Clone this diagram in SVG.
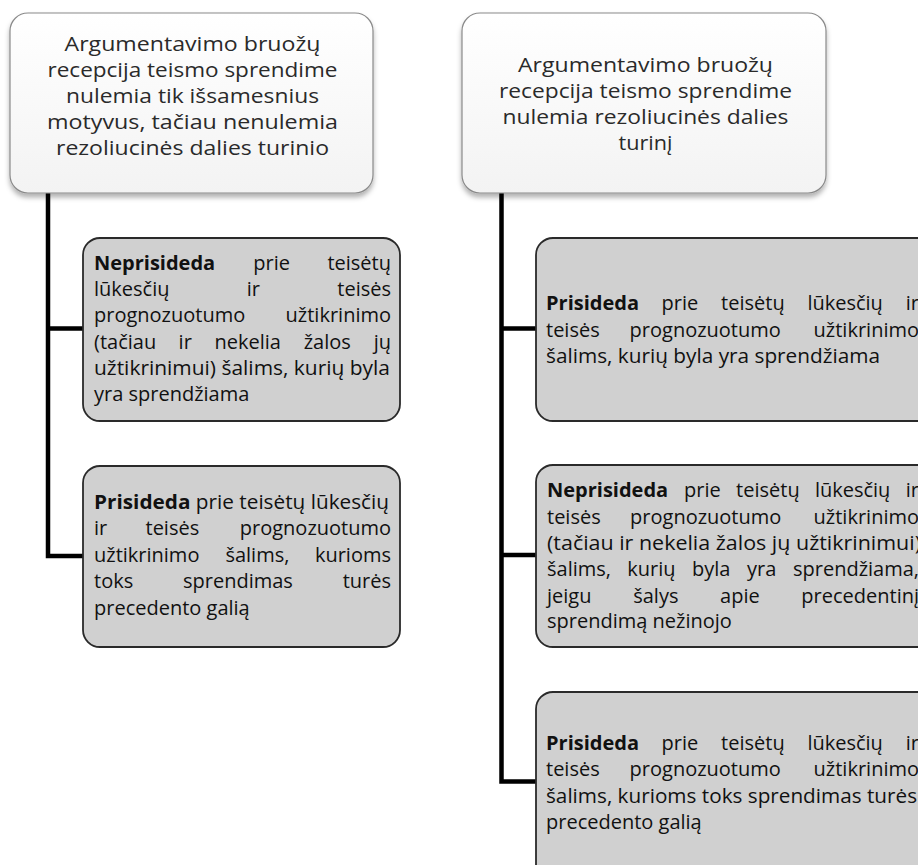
<svg xmlns="http://www.w3.org/2000/svg" width="918" height="865" viewBox="0 0 918 865">
<style>
.top{fill:url(#topfill);stroke:#8a8a8a;stroke-width:1.2;filter:url(#shadow)}
.child{fill:#d0d0d0;stroke:#2a2a2a;stroke-width:1.8}
.tt{font-family:"Open Sans","Noto Sans","Liberation Sans",sans-serif;font-size:20.5px;fill:#2a2a2a;text-anchor:middle;font-variant-ligatures:none}
.ct{font-family:"Open Sans","Noto Sans","Liberation Sans",sans-serif;font-size:20px;fill:#111;font-variant-ligatures:none}
.b{font-weight:bold}
.e{text-anchor:end}
.conn{stroke:#000;stroke-width:4.5;fill:none;stroke-linejoin:miter}
</style>
<defs>
<linearGradient id="topfill" x1="0" y1="0" x2="0" y2="1">
<stop offset="0" stop-color="#ffffff"/>
<stop offset="1" stop-color="#f3f3f3"/>
</linearGradient>
<filter id="shadow" x="-10%" y="-10%" width="120%" height="125%">
<feDropShadow dx="0" dy="4" stdDeviation="2.5" flood-color="#000" flood-opacity="0.3"/>
</filter>
</defs>
<g id="connectors">
<path class="conn" d="M48 193 V556 H83 M48 328.5 H83"/>
<path class="conn" d="M501.5 193 V781.5 H536 M501.5 328.5 H536 M501.5 555 H536"/>
</g>
<g id="top-left">
<rect class="top" x="10" y="13" width="363" height="180" rx="18"/>
<text class="tt" x="192.5" y="51" textLength="256" lengthAdjust="spacingAndGlyphs">Argumentavimo bruožų</text>
<text class="tt" x="192.5" y="77" textLength="290" lengthAdjust="spacingAndGlyphs">recepcija teismo sprendime</text>
<text class="tt" x="192.5" y="103" textLength="253" lengthAdjust="spacingAndGlyphs">nulemia tik išsamesnius</text>
<text class="tt" x="192.5" y="129" textLength="291" lengthAdjust="spacingAndGlyphs">motyvus, tačiau nenulemia</text>
<text class="tt" x="192.5" y="155" textLength="273" lengthAdjust="spacingAndGlyphs">rezoliucinės dalies turinio</text>
</g>
<g id="top-right">
<rect class="top" x="462" y="13" width="364" height="180" rx="18"/>
<text class="tt" x="645.5" y="72" textLength="255" lengthAdjust="spacingAndGlyphs">Argumentavimo bruožų</text>
<text class="tt" x="645.5" y="98" textLength="293" lengthAdjust="spacingAndGlyphs">recepcija teismo sprendime</text>
<text class="tt" x="645.5" y="124" textLength="286" lengthAdjust="spacingAndGlyphs">nulemia rezoliucinės dalies</text>
<text class="tt" x="645.5" y="150" textLength="54" lengthAdjust="spacingAndGlyphs">turinį</text>
</g>
<g id="left-child-1">
<rect class="child" x="83" y="238" width="317" height="183" rx="17"/>
<text class="ct" y="270"><tspan class="b" x="94">Neprisideda</tspan><tspan x="253.3">prie</tspan></text>
<text class="ct e" x="391" y="270">teisėtų</text>
<text class="ct" y="296"><tspan x="94">lūkesčių</tspan><tspan x="246.8">ir</tspan></text>
<text class="ct e" x="391" y="296">teisės</text>
<text class="ct" x="94" y="322">prognozuotumo</text>
<text class="ct e" x="391" y="322">užtikrinimo</text>
<text class="ct" y="349"><tspan x="94">(tačiau</tspan><tspan x="178.6">ir</tspan><tspan x="214.5">nekelia</tspan><tspan x="303.7">žalos</tspan></text>
<text class="ct e" x="391" y="349">jų</text>
<text class="ct" x="94" y="375" textLength="296" lengthAdjust="spacingAndGlyphs">užtikrinimui) šalims, kurių byla</text>
<text class="ct" x="94" y="401">yra sprendžiama</text>
</g>
<g id="left-child-2">
<rect class="child" x="83" y="466" width="317" height="181" rx="17"/>
<text class="ct" x="94" y="509" textLength="295" lengthAdjust="spacingAndGlyphs"><tspan class="b">Prisideda</tspan> prie teisėtų lūkesčių</text>
<text class="ct" y="535"><tspan x="94">ir</tspan><tspan x="145.5">teisės</tspan></text>
<text class="ct e" x="391" y="535">prognozuotumo</text>
<text class="ct" y="562"><tspan x="94">užtikrinimo</tspan><tspan x="225.4">šalims,</tspan></text>
<text class="ct e" x="391" y="562">kurioms</text>
<text class="ct" y="588"><tspan x="94">toks</tspan><tspan x="183">sprendimas</tspan></text>
<text class="ct e" x="391" y="588">turės</text>
<text class="ct" x="94" y="615">precedento galią</text>
</g>
<g id="right-child-1">
<rect class="child" x="536" y="238" width="400" height="183" rx="17"/>
<text class="ct" y="310"><tspan class="b" x="546">Prisideda</tspan><tspan x="661.5">prie</tspan><tspan x="721.1">teisėtų</tspan><tspan x="807.4">lūkesčių</tspan></text>
<text class="ct e" x="919" y="310">ir</text>
<text class="ct" y="337"><tspan x="546">teisės</tspan><tspan x="629.6">prognozuotumo</tspan></text>
<text class="ct e" x="919" y="337">užtikrinimo</text>
<text class="ct" x="546" y="363" textLength="334" lengthAdjust="spacingAndGlyphs">šalims, kurių byla yra sprendžiama</text>
</g>
<g id="right-child-2">
<rect class="child" x="536" y="465" width="400" height="182" rx="17"/>
<text class="ct" y="497"><tspan class="b" x="547">Neprisideda</tspan><tspan x="684">prie</tspan><tspan x="736.1">teisėtų</tspan><tspan x="814.9">lūkesčių</tspan></text>
<text class="ct e" x="919" y="497">ir</text>
<text class="ct" y="524"><tspan x="547">teisės</tspan><tspan x="630.1">prognozuotumo</tspan></text>
<text class="ct e" x="919" y="524">užtikrinimo</text>
<text class="ct" x="547" y="550" textLength="374" lengthAdjust="spacingAndGlyphs">(tačiau ir nekelia žalos jų užtikrinimui)</text>
<text class="ct" y="576"><tspan x="547">šalims,</tspan><tspan x="627.3">kurių</tspan><tspan x="692">byla</tspan><tspan x="747.1">yra</tspan></text>
<text class="ct e" x="919" y="576">sprendžiama,</text>
<text class="ct" y="603"><tspan x="547">jeigu</tspan><tspan x="633.2">šalys</tspan><tspan x="720.1">apie</tspan></text>
<text class="ct e" x="919" y="603">precedentinį</text>
<text class="ct" x="547" y="628">sprendimą nežinojo</text>
</g>
<g id="right-child-3">
<rect class="child" x="536" y="692" width="400" height="190" rx="17"/>
<text class="ct" y="750"><tspan class="b" x="546">Prisideda</tspan><tspan x="661.5">prie</tspan><tspan x="721.1">teisėtų</tspan><tspan x="807.4">lūkesčių</tspan></text>
<text class="ct e" x="919" y="750">ir</text>
<text class="ct" y="776"><tspan x="546">teisės</tspan><tspan x="629.6">prognozuotumo</tspan></text>
<text class="ct e" x="919" y="776">užtikrinimo</text>
<text class="ct" x="546" y="803" textLength="371" lengthAdjust="spacingAndGlyphs">šalims, kurioms toks sprendimas turės</text>
<text class="ct" x="546" y="829">precedento galią</text>
</g>
</svg>
